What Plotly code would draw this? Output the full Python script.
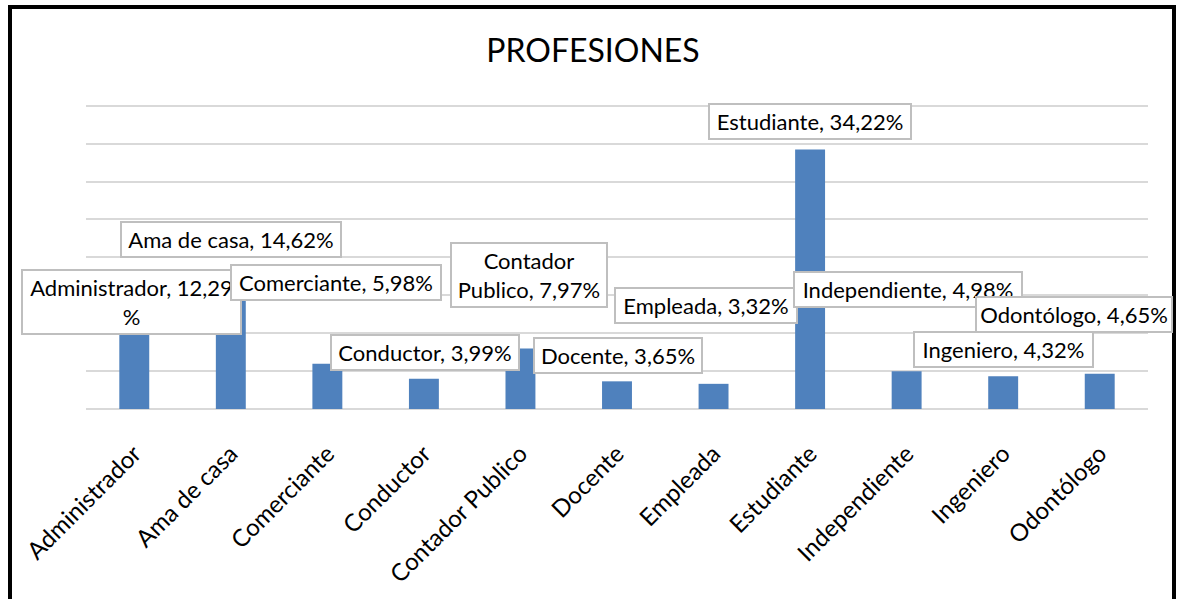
import plotly.graph_objects as go

categories = ["Administrador", "Ama de casa", "Comerciante", "Conductor", "Contador Publico",
              "Docente", "Empleada", "Estudiante", "Independiente", "Ingeniero", "Odontólogo"]
values = [12.29, 14.62, 5.98, 3.99, 7.97, 3.65, 3.32, 34.22, 4.98, 4.32, 4.65]
label_texts = ["Administrador, 12,29<br>%", "Ama de casa, 14,62%", "Comerciante, 5,98%",
               "Conductor, 3,99%", "Contador<br>Publico, 7,97%", "Docente, 3,65%",
               "Empleada, 3,32%", "Estudiante, 34,22%", "Independiente, 4,98%",
               "Ingeniero, 4,32%", "Odontólogo, 4,65%"]

# label placement (data-unit y, pixel x shift, outer box width in px)
label_y = [14.1, 22.3, 16.75, 7.4, 17.7, 7.1, 13.6, 37.9, 15.7, 7.9, 12.5]
label_dx = [-3, 0, 9, 1, 9, 1, -8, 0, 1, 0, -26]
label_w = [221, 222, 212, 190, 158, 170, 184, 204, 230, 181, 198]

FONT = "Lato"
PAD, BW = 3, 2

fig = go.Figure()
fig.add_trace(go.Bar(x=categories, y=values, marker_color="#4f81bd",
                     marker_line_width=0, width=0.31, hoverinfo="skip"))

for i in range(len(categories)):
    fig.add_annotation(x=categories[i], y=label_y[i], xref="x", yref="y",
                       text=label_texts[i], showarrow=False, xshift=label_dx[i],
                       width=label_w[i] - 2 * PAD - 2 * BW, align="center",
                       font=dict(family=FONT, size=22, color="#000000"),
                       bgcolor="#ffffff", bordercolor="#bfbfbf", borderwidth=BW, borderpad=PAD)

Y_TOP = 40.5
L, R, T, B = 86, 32, 102, 190
W, H = 1180, 599
pw, ph = W - L - R, H - T - B

def px_x(v):
    return (v - L) / pw

def px_y(v):
    return (H - B - v) / ph

fig.add_shape(type="rect", xref="paper", yref="paper",
              x0=px_x(10), x1=px_x(1174), y0=px_y(620), y1=px_y(7),
              line=dict(color="#000000", width=4), fillcolor="rgba(0,0,0,0)", layer="above")

fig.update_layout(
    width=W, height=H,
    margin=dict(l=L, r=R, t=T, b=B, autoexpand=False),
    paper_bgcolor="#ffffff", plot_bgcolor="#ffffff",
    title=dict(text="PROFESIONES", x=593 / W, xref="container", xanchor="center",
               y=1 - 51 / H, yref="container", yanchor="middle",
               font=dict(family=FONT, size=32, color="#000000")),
    showlegend=False,
    bargap=0.69,
    xaxis=dict(range=[-0.5, len(categories) - 0.5], autorange=False,
               tickangle=-45, tickfont=dict(family=FONT, size=24, color="#000000"),
               ticklabelstandoff=25,
               showgrid=False, showline=False, ticks="", fixedrange=True, automargin=False),
    yaxis=dict(range=[0, Y_TOP], autorange=False, dtick=5, showticklabels=False, showgrid=True,
               gridcolor="#d9d9d9", gridwidth=1.5, zeroline=True, zerolinecolor="#d9d9d9",
               zerolinewidth=2, showline=False, ticks="", automargin=False, fixedrange=True),
)

fig.write_html("out.html", config={"displayModeBar": False},
               post_script="document.body.style.margin='0';document.body.style.padding='0';")
